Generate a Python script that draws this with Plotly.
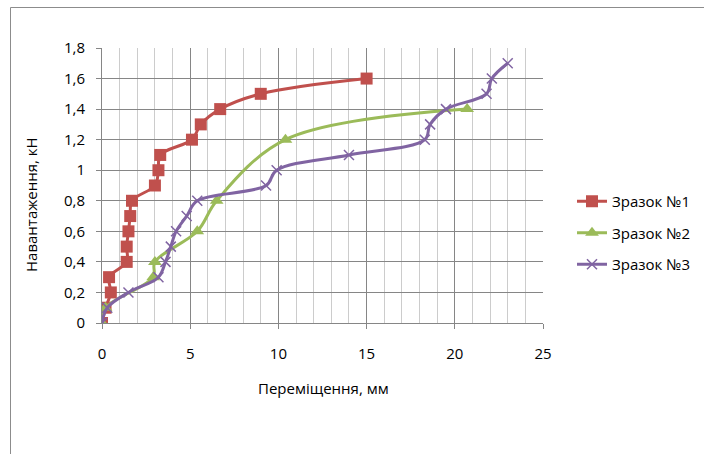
import plotly.graph_objects as go

# Load–displacement data for three samples
x1 = [0, 0.2, 0.5, 0.4, 1.4, 1.4, 1.5, 1.6, 1.7, 3.0, 3.2, 3.3, 5.1, 5.6, 6.7, 9.0, 15.0]
y1 = [0, 0.1, 0.2, 0.3, 0.4, 0.5, 0.6, 0.7, 0.8, 0.9, 1.0, 1.1, 1.2, 1.3, 1.4, 1.5, 1.6]

x2 = [0, 0.2, 2.9, 3.0, 5.4, 6.5, 10.4, 20.7]
y2 = [0, 0.1, 0.3, 0.4, 0.6, 0.8, 1.2, 1.4]

x3 = [0, 0.3, 1.5, 3.2, 3.6, 3.9, 4.2, 4.8, 5.4, 9.3, 9.9, 14.0, 18.3, 18.6, 19.5, 21.8, 22.1, 23.0]
y3 = [0, 0.1, 0.2, 0.3, 0.4, 0.5, 0.6, 0.7, 0.8, 0.9, 1.0, 1.1, 1.2, 1.3, 1.4, 1.5, 1.6, 1.7]

names = ["Зразок №1", "Зразок №2", "Зразок №3"]
x_ticks = [0, 5, 10, 15, 20, 25]
y_ticks = [0, 0.2, 0.4, 0.6, 0.8, 1.0, 1.2, 1.4, 1.6, 1.8]
y_labels = ["0", "0,2", "0,4", "0,6", "0,8", "1", "1,2", "1,4", "1,6", "1,8"]
x_title = "Переміщення, мм"
y_title = "Навантаження, кН"

FONT = "'Open Sans', 'Noto Sans', sans-serif"
FS = 15
RED, GREEN, PURPLE = "#C0504D", "#9BBB59", "#8064A2"
GRID = "#868686"

fig = go.Figure()
fig.add_trace(go.Scatter(
    x=x1, y=y1, name=names[0], mode="lines+markers", legendgroup="a",
    line=dict(color=RED, width=3, shape="spline"),
    marker=dict(symbol="square", size=12, color=RED),
))
fig.add_trace(go.Scatter(
    x=x2, y=y2, name=names[1], mode="lines+markers", legendgroup="b",
    line=dict(color=GREEN, width=3, shape="spline"),
    marker=dict(symbol="triangle-up", size=12, color=GREEN),
))
fig.add_trace(go.Scatter(
    x=x3, y=y3, name=names[2], mode="lines+markers", legendgroup="c",
    line=dict(color=PURPLE, width=3, shape="spline"),
    marker=dict(symbol="x-thin", size=10, line=dict(color=PURPLE, width=1.5)),
))

# plot-area box in page pixels
L, R, T, B = 102, 543, 48, 323
W, H = 704, 454

def px_x(p):
    return (p - L) / (R - L)

def px_y(p):
    return (B - p) / (B - T)

# partial outer frame: left and top edges
fig.add_shape(type="line", xref="paper", yref="paper",
              x0=px_x(10.5), x1=px_x(10.5), y0=px_y(7.5), y1=px_y(460),
              line=dict(color="#8c8c8c", width=1))
fig.add_shape(type="line", xref="paper", yref="paper",
              x0=px_x(10.5), x1=px_x(710), y0=px_y(7.5), y1=px_y(7.5),
              line=dict(color="#8c8c8c", width=1))

# axis titles
fig.add_annotation(text=x_title, xref="paper", yref="paper",
                   x=px_x(323.5), y=px_y(388), showarrow=False,
                   xanchor="center", yanchor="middle",
                   font=dict(family=FONT, size=FS, color="#000"))
fig.add_annotation(text=y_title, xref="paper", yref="paper",
                   x=px_x(31), y=px_y(205), showarrow=False, textangle=-90,
                   xanchor="center", yanchor="middle",
                   font=dict(family=FONT, size=FS, color="#000"))

fig.update_layout(
    width=W, height=H,
    margin=dict(l=L, r=W - R, t=T, b=H - B, autoexpand=False),
    paper_bgcolor="white", plot_bgcolor="white",
    font=dict(family=FONT, size=FS, color="#000000"),
    showlegend=True,
    legend=dict(xref="container", yref="container",
                x=572 / W, y=1 - 233 / H, xanchor="left", yanchor="middle",
                font=dict(family=FONT, size=FS), traceorder="grouped",
                tracegroupgap=9, bgcolor="rgba(0,0,0,0)"),
)

fig.update_xaxes(
    range=[0, 25], tickvals=x_ticks, ticktext=[str(v) for v in x_ticks],
    showline=True, linecolor=GRID, linewidth=1,
    showgrid=True, gridcolor=GRID, gridwidth=1,
    ticks="outside", ticklen=5, tickcolor=GRID,
    ticklabelstandoff=12,
    minor=dict(dtick=1, showgrid=True, gridcolor="#cccccc", gridwidth=1),
    zeroline=False,
)
fig.update_yaxes(
    range=[0, 1.8], tickvals=y_ticks, ticktext=y_labels,
    showline=True, linecolor=GRID, linewidth=1,
    showgrid=True, gridcolor=GRID, gridwidth=1,
    ticks="outside", ticklen=5, tickcolor=GRID,
    ticklabelstandoff=8,
    zeroline=False,
)

fig.write_html("out.html")
